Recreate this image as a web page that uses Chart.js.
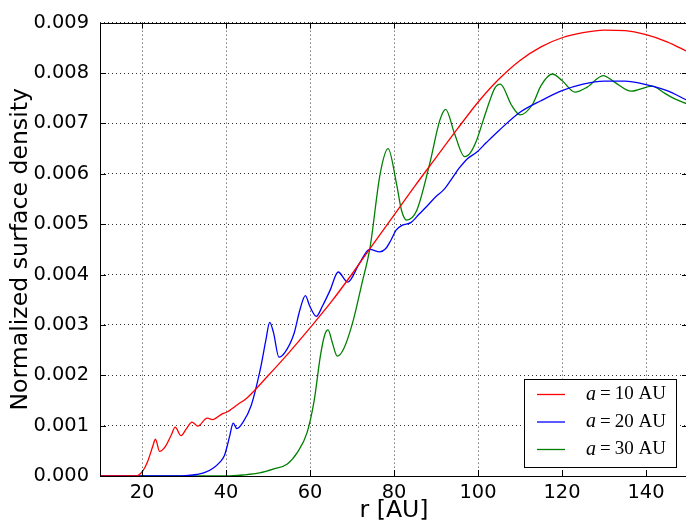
<!DOCTYPE html>
<html>
<head>
<meta charset="utf-8">
<script src="https://cdn.jsdelivr.net/npm/chart.js@4/dist/chart.umd.min.js"></script>
<style>
  html, body { margin: 0; padding: 0; background: #fff; overflow: hidden; }
  #wrap { width: 686px; height: 529px; overflow: hidden; position: relative; }
  canvas { position: absolute; left: 0; top: 0; }
</style>
</head>
<body>
<div id="wrap"><canvas id="densityChart" width="700" height="529"></canvas></div>
<script>
// tick labels
const xTickValues = [20, 40, 60, 80, 100, 120, 140];
const yTickValues = [0, 0.001, 0.002, 0.003, 0.004, 0.005, 0.006, 0.007, 0.008, 0.009];

const seriesLabels = ['10', '20', '30'];

// a = 10 AU
const rA10 = [10, 15, 18, 19, 20.2, 21.4, 22.6, 23.2, 24.2, 25.5, 27, 27.9, 29.3, 30.5, 31.9, 33.3, 35.5, 36.8, 39.2, 40,
  42.8, 45, 50, 55, 60, 65, 70, 75, 80, 85, 90, 95, 100, 105, 110, 115, 120, 125, 130, 135, 140, 145, 150];
const sigmaA10 = [0, 0, 0, 0.00001, 0.0001, 0.0003, 0.0006, 0.00073, 0.00049, 0.00058, 0.00082, 0.00097, 0.0008, 0.00093,
  0.00107, 0.00099, 0.00115, 0.00112, 0.00124, 0.00126, 0.00142, 0.00155, 0.00199, 0.00245, 0.00294, 0.00345,
  0.00401, 0.0046, 0.00518, 0.00576, 0.00632, 0.00688, 0.00742, 0.00788, 0.00825, 0.00852, 0.0087, 0.0088, 0.00885,
  0.00884, 0.00876, 0.00862, 0.00842];

// a = 20 AU
const rA20 = [10, 28, 31, 33, 35, 37, 38.5, 39.6, 40.3, 40.9, 41.7, 42.6, 44, 46, 48.3, 49.5, 50.4, 51.3, 52.6, 54, 56.2,
  57.6, 58.9, 59.9, 61.5, 63, 64.8, 66.7, 69, 71.7, 74.2, 76.6, 78, 79.2, 80.5, 82, 84, 86, 88, 90, 91.8, 93.5, 95.7,
  97.5, 99.6, 102, 105, 110, 115, 120, 125, 130, 135, 140, 145, 150];
const sigmaA20 = [0, 0, 0.00001, 0.00003, 0.00007, 0.00016, 0.00027, 0.0004, 0.0006, 0.0008, 0.00105, 0.00094, 0.00106,
  0.0014, 0.00217, 0.0027, 0.00305, 0.00285, 0.00236, 0.00245, 0.00283, 0.0033, 0.00358, 0.00338, 0.00317, 0.00338,
  0.00369, 0.00405, 0.00385, 0.00421, 0.0045, 0.00445, 0.00451, 0.00467, 0.00488, 0.00498, 0.00503, 0.0052, 0.00537,
  0.00555, 0.00568, 0.00587, 0.00613, 0.0063, 0.00642, 0.00662, 0.00686, 0.00722, 0.00745, 0.00765, 0.00778, 0.00784,
  0.00784, 0.00777, 0.00765, 0.00745];

// a = 30 AU
const rA30 = [10, 40, 44, 48, 51.4, 54.6, 57, 59.3, 61, 62.5, 63.5, 64.3, 65.3, 66.5, 68, 70.3, 72.3, 74.3, 76.7, 78.6,
  80.6, 81.8, 83, 85.4, 88.5, 90.9, 92.3, 94.4, 96.8, 98.2, 99.6, 101.2, 102.8, 104, 105.3, 108, 110, 113, 115, 117.7,
  120, 123.1, 126, 129.8, 132.5, 136.5, 141.5, 144.4, 147, 150];
const sigmaA30 = [0, 0, 0.00002, 0.00006, 0.00014, 0.00024, 0.00047, 0.00086, 0.0015, 0.0024, 0.0028, 0.0029, 0.00265,
  0.00238, 0.00252, 0.00309, 0.0038, 0.00454, 0.006, 0.0065, 0.0058, 0.00527, 0.00508, 0.00527, 0.0062, 0.00706,
  0.00728, 0.0068, 0.00634, 0.00642, 0.00665, 0.00705, 0.00745, 0.0077, 0.00778, 0.00736, 0.00717, 0.00738, 0.00775,
  0.00798, 0.00785, 0.00762, 0.00772, 0.00795, 0.00782, 0.00764, 0.00774, 0.0076, 0.00748, 0.00738];

const colors = ['#ff0000', '#0000ff', '#008000'];

function toPoints(xs, ys) {
    return xs.map((x, i) => ({x: x, y: ys[i]}));
}

function makeDataset(label, xs, ys, color) {
    return {
        label: label,
        data: toPoints(xs, ys),
        borderColor: color,
        borderWidth: 1.3,
        pointRadius: 0,
        fill: false,
        cubicInterpolationMode: 'monotone'
    };
}

// frame, inward ticks and the legend box, matplotlib style
const framePlugin = {
    id: 'frame',
    afterDraw(chart) {
        const ctx = chart.ctx;
        const a = chart.chartArea;
        const xs = chart.scales.x;
        const ys = chart.scales.y;
        ctx.save();
        ctx.strokeStyle = '#000';
        ctx.lineWidth = 1;
        ctx.strokeRect(Math.round(a.left) + 0.5, Math.round(a.top) + 0.5,
            Math.round(a.width), Math.round(a.height));

        ctx.beginPath();
        xTickValues.forEach(v => {
            const px = Math.round(xs.getPixelForValue(v)) + 0.5;
            ctx.moveTo(px, a.bottom); ctx.lineTo(px, a.bottom - 6);
            ctx.moveTo(px, a.top); ctx.lineTo(px, a.top + 6);
        });
        yTickValues.forEach(v => {
            const py = Math.round(ys.getPixelForValue(v)) + 0.5;
            ctx.moveTo(a.left, py); ctx.lineTo(a.left + 6, py);
            ctx.moveTo(a.right, py); ctx.lineTo(a.right - 6, py);
        });
        ctx.stroke();

        // legend
        const bx = 524.5, by = 379.5, bw = 152, bh = 88;
        ctx.fillStyle = '#fff';
        ctx.fillRect(bx, by, bw, bh);
        ctx.strokeRect(bx, by, bw, bh);
        chart.data.datasets.forEach((ds, i) => {
            const rowY = by + 15 + i * 27.5;
            ctx.strokeStyle = ds.borderColor;
            ctx.lineWidth = 1.3;
            ctx.beginPath();
            ctx.moveTo(537, rowY); ctx.lineTo(565, rowY);
            ctx.stroke();
            ctx.fillStyle = '#000';
            ctx.textBaseline = 'middle';
            ctx.textAlign = 'left';
            ctx.font = 'italic 20px "Liberation Serif"';
            ctx.fillText('a', 586, rowY);
            let x = 586 + ctx.measureText('a').width + 4;
            ctx.font = '19px "Liberation Serif"';
            ctx.fillText('=', x, rowY);
            x += ctx.measureText('=').width + 4;
            ctx.fillText(ds.label + ' AU', x, rowY);
        });
        ctx.restore();
    }
};

Chart.defaults.font.family = '"DejaVu Sans"';
Chart.defaults.color = '#000';

const ctx = document.getElementById('densityChart').getContext('2d');
new Chart(ctx, {
    type: 'line',
    data: {
        datasets: [
            makeDataset(seriesLabels[0], rA10, sigmaA10, colors[0]),
            makeDataset(seriesLabels[1], rA20, sigmaA20, colors[1]),
            makeDataset(seriesLabels[2], rA30, sigmaA30, colors[2])
        ]
    },
    options: {
        responsive: false,
        animation: false,
        devicePixelRatio: 1,
        layout: {
            padding: {top: 22, right: 12, left: 0, bottom: 0}
        },
        plugins: {
            legend: {display: false},
            tooltip: {enabled: false}
        },
        scales: {
            x: {
                type: 'linear',
                min: 10,
                max: 150,
                afterBuildTicks: scale => {
                    scale.ticks = xTickValues.map(v => ({value: v}));
                },
                afterFit: scale => { scale.height = 53; },
                grid: {color: 'rgba(0,0,0,0.8)', lineWidth: 1, drawTicks: false},
                border: {display: false, dash: [1, 3]},
                ticks: {font: {size: 19.4}, padding: 5, maxRotation: 0},
                title: {
                    display: true,
                    text: 'r [AU]',
                    font: {size: 23.6},
                    padding: {top: 0, bottom: 4}
                }
            },
            y: {
                type: 'linear',
                min: 0,
                max: 0.009,
                afterBuildTicks: scale => {
                    scale.ticks = yTickValues.map(v => ({value: v}));
                },
                afterFit: scale => { scale.width = 100; },
                grid: {color: 'rgba(0,0,0,0.8)', lineWidth: 1, drawTicks: false},
                border: {display: false, dash: [1, 3]},
                ticks: {
                    font: {size: 19.4},
                    padding: 11,
                    callback: v => v.toFixed(3)
                },
                title: {
                    display: true,
                    text: 'Normalized surface density',
                    font: {size: 23.6},
                    padding: {top: 7, bottom: 0}
                }
            }
        }
    },
    plugins: [framePlugin]
});
</script>
</body>
</html>
